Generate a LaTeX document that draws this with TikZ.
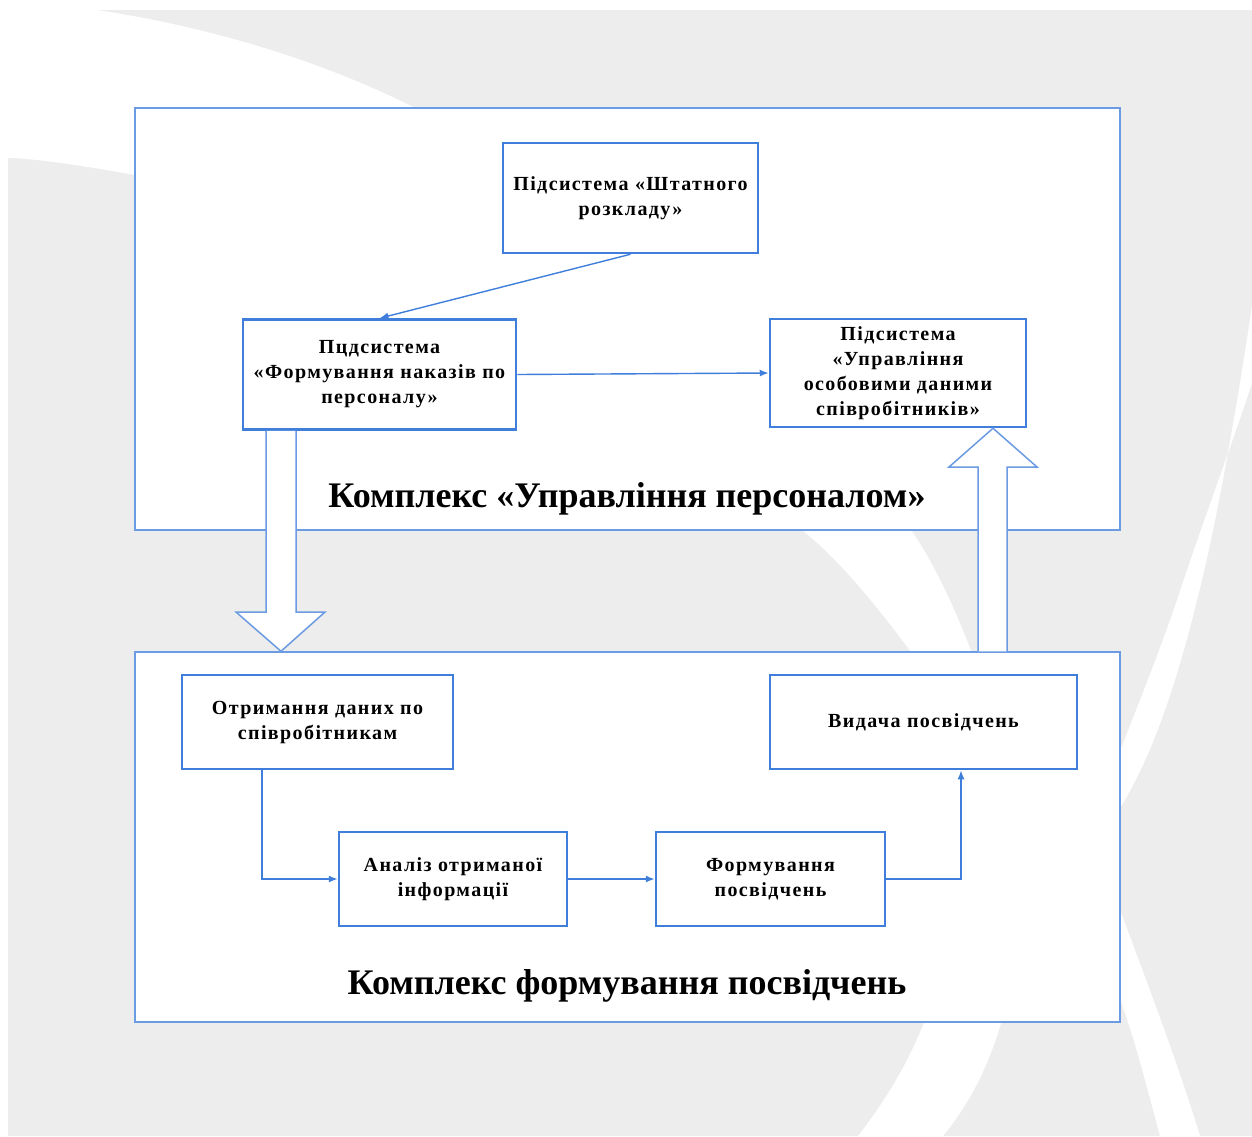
\documentclass[tikz,border=0pt]{standalone}
\usepackage{fontspec}
\setmainfont{Liberation Serif}
\newfontfamily\boxfont[LetterSpace=7]{Liberation Serif}
\usetikzlibrary{arrows.meta}

\definecolor{bgray}{HTML}{EDEDED}
\definecolor{boxblue}{HTML}{3F7FDB}
\definecolor{frameblue}{HTML}{6B9BE2}

\tikzset{
  sub/.style={draw=boxblue, line width=2.5pt, fill=white, align=center,
    inner sep=2pt, font=\boxfont\bfseries\fontsize{20}{25}\selectfont},
  kompl/.style={draw=frameblue, line width=1.5pt, fill=white},
  title/.style={anchor=base, font=\bfseries\fontsize{36}{40}\selectfont},
  link/.style={draw=boxblue, line width=1.4pt, ->},
  hollow/.style={draw=frameblue, line width=1.5pt, fill=white},
}

\begin{document}
\begin{tikzpicture}[x=1pt, y=-1pt, >={Latex[length=9pt,width=7pt]}]
\useasboundingbox (0,0) rectangle (1252,1136);

% background
\fill[bgray] (8,10) rectangle (1252,1136);
\fill[white] (97,10) .. controls (230,30) and (340,70) .. (413,107)
  .. controls (650,230) and (870,470) .. (911,530)
  .. controls (960,600) and (1013,750) .. (1018,850)
  .. controls (1023,960) and (1005,1060) .. (943,1136)
  -- (858,1136) .. controls (925,1050) and (955,960) .. (950,860)
  .. controls (945,760) and (935,690) .. (911,652)
  .. controls (880,610) and (840,560) .. (802,530)
  .. controls (600,370) and (300,210) .. (135,175)
  .. controls (80,165) and (30,158) .. (8,158)
  -- (0,158) -- (0,10) -- cycle;
\fill[white] (1252,306) .. controls (1235,420) and (1215,530) .. (1197,600)
  .. controls (1175,690) and (1150,760) .. (1120,808) -- (1110,860) -- (1120,910)
  .. controls (1150,990) and (1180,1070) .. (1200,1136)
  -- (1160,1136) .. controls (1145,1080) and (1135,1040) .. (1120,999)
  -- (1095,875) -- (1120,751)
  .. controls (1140,700) and (1160,650) .. (1177,600)
  .. controls (1200,530) and (1230,450) .. (1252,383) -- cycle;

% complexes
\node[kompl, minimum width=985pt, minimum height=422pt] (kompA) at (627.5,319) {};
\node[kompl, minimum width=985pt, minimum height=370pt] (kompB) at (627.5,837) {};
\node[title] (titleA) at (627,507) {Комплекс «Управління персоналом»};
\node[title] (titleB) at (627,994) {Комплекс формування посвідчень};

% subsystems
\node[sub, minimum width=255pt, minimum height=110pt] (shtat) at (630.5,198) {Підсистема «Штатного\\ розкладу»};
\node[sub, minimum width=273pt, minimum height=110pt] (nakaz) at (379.5,374.5) {Пцдсистема\\ «Формування наказів по\\ персоналу»};
\node[sub, minimum width=256pt, minimum height=108pt] (upr) at (898,373) {Підсистема\\ «Управління\\ особовими даними\\ співробітників»};

\node[sub, minimum width=271pt, minimum height=94pt] (otr) at (317.5,722) {Отримання даних по\\ співробітникам};
\node[sub, minimum width=228pt, minimum height=94pt] (anal) at (453,879) {Аналіз отриманої\\ інформації};
\node[sub, minimum width=229pt, minimum height=94pt] (form) at (770.5,879) {Формування\\ посвідчень};
\node[sub, minimum width=307pt, minimum height=94pt] (vyd) at (923.5,722) {Видача посвідчень};

% links
\draw[link] (shtat.south) -- (nakaz.north);
\draw[link] (nakaz.east) -- (upr.west);
\draw[link] (262,0 |- otr.south) |- (anal.west);
\draw[link] (anal.east) -- (form.west);
\draw[link] (form.east) -| (961,0 |- vyd.south);

% big arrows
\draw[hollow] (nakaz.south -| 266,0) -- (266,612) -- (236,612) -- (281,0 |- kompB.north)
  -- (325,612) -- (296,612) -- (nakaz.south -| 296,0);
\draw[hollow] (kompB.north -| 978,0) -- (978,467) -- (949,467) -- (993,0 |- upr.south)
  -- (1037,467) -- (1007,467) -- (kompB.north -| 1007,0);

\end{tikzpicture}
\end{document}
